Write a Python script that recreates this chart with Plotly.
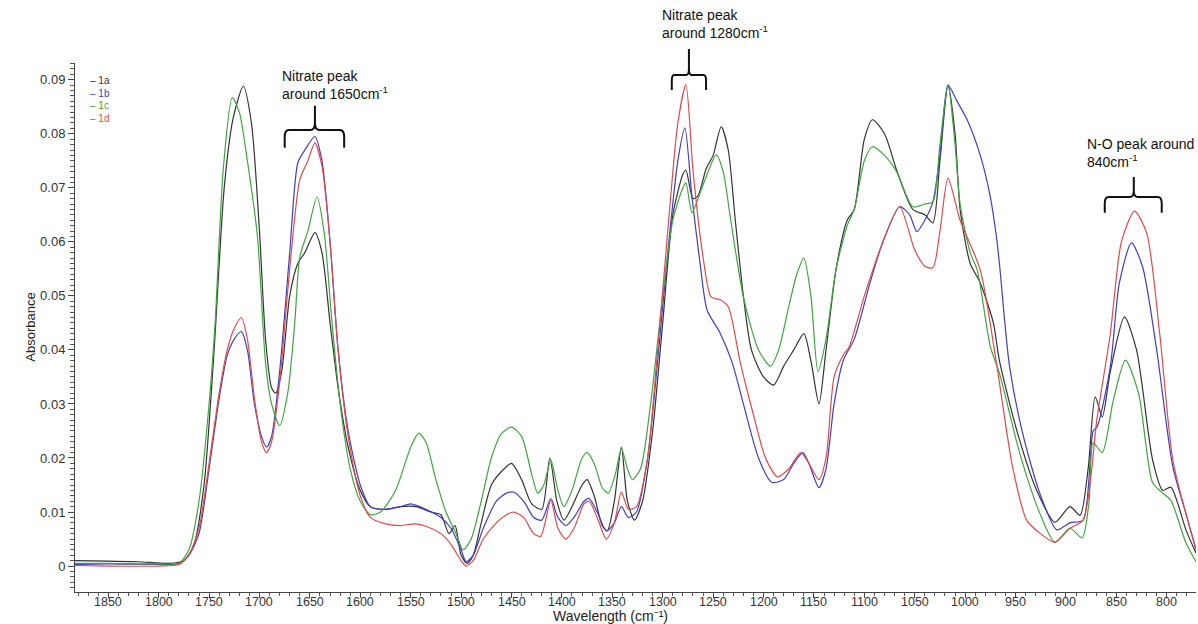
import plotly.graph_objects as go

# ---------------- data (wavenumber cm^-1, absorbance) ----------------
w_1a = [1883, 1850, 1820, 1790, 1775, 1765, 1755, 1745, 1735, 1726, 1716, 1708, 1700, 1694, 1688, 1684,
        1678, 1670, 1662, 1655, 1645, 1638, 1630, 1622, 1612, 1600, 1590, 1575, 1560, 1545, 1530, 1520,
        1512, 1506, 1500, 1494, 1488, 1480, 1470, 1460, 1450, 1440, 1430, 1420, 1412, 1405, 1398, 1390,
        1380, 1375, 1368, 1360, 1355, 1348, 1341, 1335, 1328, 1320, 1310, 1300, 1290, 1280, 1277, 1270,
        1265, 1257, 1250, 1242, 1235, 1228, 1220, 1212, 1200, 1190, 1180, 1170, 1160, 1153, 1145, 1138,
        1128, 1117, 1110, 1100, 1092, 1080, 1068, 1052, 1040, 1032, 1025, 1017, 1010, 1005, 995, 985,
        972, 966, 948, 929, 911, 896, 886, 878, 871, 864, 856, 842, 830, 814, 804, 796, 781, 771]
a_1a = [0.0010, 0.0009, 0.0008, 0.0005, 0.0010, 0.004, 0.015, 0.040, 0.070, 0.083, 0.0888, 0.082, 0.062,
        0.042, 0.033, 0.032, 0.036, 0.050, 0.056, 0.058, 0.0617, 0.058, 0.045, 0.033, 0.022, 0.014, 0.011,
        0.0105, 0.011, 0.011, 0.010, 0.0095, 0.006, 0.0075, 0.002, 0.0005, 0.002, 0.008, 0.015, 0.0175,
        0.019, 0.016, 0.0115, 0.0105, 0.020, 0.012, 0.0085, 0.011, 0.015, 0.016, 0.013, 0.0075, 0.0065,
        0.012, 0.022, 0.012, 0.0085, 0.012, 0.025, 0.045, 0.065, 0.0725, 0.0733, 0.068, 0.0685, 0.0735,
        0.076, 0.0813, 0.077, 0.064, 0.050, 0.040, 0.035, 0.0335, 0.037, 0.040, 0.043, 0.038, 0.030,
        0.040, 0.055, 0.064, 0.066, 0.079, 0.0826, 0.080, 0.0733, 0.066, 0.065, 0.0635, 0.075, 0.089,
        0.080, 0.066, 0.056, 0.0524, 0.045, 0.038, 0.0246, 0.014, 0.0081, 0.011, 0.0094, 0.018, 0.0313,
        0.0276, 0.036, 0.0461, 0.040, 0.0196, 0.014, 0.0146, 0.0067, 0.0024]

w_1b = [1883, 1850, 1800, 1780, 1770, 1760, 1750, 1740, 1732, 1725, 1718, 1712, 1705, 1698, 1693, 1688,
        1680, 1670, 1662, 1655, 1645, 1638, 1630, 1622, 1612, 1600, 1590, 1575, 1560, 1550, 1535, 1520,
        1510, 1500, 1495, 1488, 1478, 1465, 1455, 1448, 1438, 1428, 1420, 1411, 1404, 1396, 1388, 1378,
        1373, 1365, 1356, 1348, 1341, 1334, 1326, 1315, 1305, 1295, 1285, 1278, 1271, 1263, 1256, 1243,
        1231, 1220, 1205, 1192, 1180, 1170, 1161, 1155, 1145, 1138, 1130, 1121, 1110, 1095, 1082, 1065,
        1055, 1048, 1040, 1032, 1025, 1017, 1008, 998, 985, 975, 969, 966, 956, 943, 926, 909, 896, 883,
        873, 869, 856, 847, 835, 824, 810, 794, 780, 770]
a_1b = [0.0003, 0.0004, 0.0003, 0.0004, 0.002, 0.006, 0.018, 0.031, 0.039, 0.042, 0.0434, 0.040, 0.030,
        0.024, 0.022, 0.024, 0.036, 0.058, 0.0746, 0.077, 0.0795, 0.075, 0.060, 0.040, 0.025, 0.015, 0.011,
        0.0105, 0.011, 0.0115, 0.0105, 0.009, 0.007, 0.003, 0.0008, 0.002, 0.007, 0.012, 0.0135, 0.0137,
        0.012, 0.009, 0.0085, 0.0125, 0.009, 0.0075, 0.009, 0.012, 0.0125, 0.010, 0.0065, 0.008, 0.011,
        0.009, 0.010, 0.020, 0.038, 0.058, 0.075, 0.0811, 0.0683, 0.0561, 0.0474, 0.0431, 0.0376, 0.030,
        0.020, 0.0155, 0.016, 0.019, 0.021, 0.019, 0.0145, 0.018, 0.030, 0.038, 0.042, 0.052, 0.0598,
        0.0665, 0.065, 0.0619, 0.064, 0.0674, 0.076, 0.089, 0.086, 0.0826, 0.076, 0.0683, 0.061, 0.056,
        0.037, 0.0246, 0.0135, 0.0067, 0.008, 0.0085, 0.025, 0.0258, 0.0369, 0.0524, 0.0598, 0.0554,
        0.040, 0.0184, 0.0091, 0.0024]

w_1c = [1883, 1850, 1800, 1780, 1770, 1760, 1750, 1744, 1736, 1727, 1720, 1712, 1702, 1694, 1688, 1680,
        1672, 1665, 1660, 1652, 1643, 1636, 1628, 1620, 1610, 1600, 1590, 1580, 1565, 1550, 1542, 1535,
        1525, 1515, 1505, 1498, 1490, 1480, 1470, 1460, 1450, 1440, 1430, 1424, 1418, 1411, 1404, 1398,
        1390, 1380, 1375, 1368, 1360, 1354, 1347, 1341, 1335, 1330, 1322, 1312, 1300, 1290, 1280, 1277,
        1271, 1265, 1258, 1247, 1240, 1233, 1220, 1205, 1193, 1185, 1175, 1167, 1160, 1153, 1146, 1138,
        1128, 1117, 1110, 1100, 1092, 1080, 1068, 1052, 1040, 1032, 1025, 1017, 1010, 1005, 995, 988,
        975, 966, 946, 926, 911, 896, 884, 877, 873, 864, 853, 841, 828, 814, 804, 796, 781, 771]
a_1c = [0.0005, 0.0005, 0.0004, 0.0005, 0.003, 0.012, 0.030, 0.045, 0.0733, 0.0867, 0.084, 0.075, 0.061,
        0.0376, 0.030, 0.026, 0.032, 0.045, 0.0572, 0.062, 0.0683, 0.062, 0.045, 0.030, 0.018, 0.012,
        0.0095, 0.010, 0.014, 0.022, 0.0246, 0.023, 0.016, 0.010, 0.006, 0.003, 0.005, 0.012, 0.020,
        0.0245, 0.0257, 0.024, 0.017, 0.0135, 0.015, 0.0196, 0.014, 0.011, 0.014, 0.020, 0.021, 0.019,
        0.0145, 0.0135, 0.017, 0.0218, 0.018, 0.016, 0.018, 0.030, 0.050, 0.064, 0.070, 0.0709, 0.0654,
        0.068, 0.0715, 0.0761, 0.073, 0.0646, 0.0498, 0.040, 0.037, 0.040, 0.048, 0.054, 0.057, 0.050,
        0.036, 0.042, 0.055, 0.063, 0.066, 0.075, 0.0776, 0.076, 0.073, 0.0665, 0.067, 0.0674, 0.078,
        0.089, 0.078, 0.067, 0.058, 0.0548, 0.0406, 0.0357, 0.021, 0.0098, 0.0044, 0.007, 0.0052, 0.012,
        0.0228, 0.021, 0.0307, 0.0381, 0.032, 0.0154, 0.0135, 0.0122, 0.0043, 0.0008]

w_1d = [1883, 1850, 1800, 1780, 1770, 1760, 1750, 1740, 1732, 1725, 1718, 1712, 1705, 1698, 1693, 1688,
        1680, 1670, 1660, 1652, 1645, 1638, 1630, 1622, 1612, 1600, 1590, 1575, 1560, 1545, 1530, 1520,
        1510, 1500, 1495, 1488, 1478, 1465, 1455, 1448, 1438, 1428, 1421, 1411, 1404, 1396, 1388, 1378,
        1373, 1365, 1356, 1348, 1341, 1334, 1326, 1315, 1305, 1295, 1285, 1277, 1270, 1260, 1252, 1243,
        1235, 1223, 1210, 1198, 1186, 1175, 1163, 1155, 1145, 1138, 1130, 1121, 1115, 1100, 1082, 1065,
        1050, 1040, 1032, 1025, 1017, 1005, 985, 969, 953, 939, 926, 911, 896, 883, 869, 856, 845, 832,
        820, 807, 794, 780, 770]
a_1d = [0.0001, 0.0, 0.0, 0.0003, 0.002, 0.007, 0.019, 0.032, 0.040, 0.044, 0.046, 0.042, 0.031, 0.023,
        0.021, 0.023, 0.034, 0.055, 0.0715, 0.075, 0.0783, 0.074, 0.060, 0.040, 0.024, 0.013, 0.009,
        0.0078, 0.0075, 0.0078, 0.007, 0.006, 0.004, 0.001, 0.0, 0.001, 0.005, 0.008, 0.0095, 0.010,
        0.009, 0.006, 0.0055, 0.0122, 0.007, 0.005, 0.007, 0.0115, 0.012, 0.009, 0.005, 0.008, 0.0137,
        0.0105, 0.011, 0.020, 0.040, 0.062, 0.082, 0.0891, 0.0733, 0.0572, 0.0498, 0.0493, 0.048, 0.0376,
        0.028, 0.020, 0.0165, 0.018, 0.021, 0.019, 0.016, 0.020, 0.035, 0.039, 0.0406, 0.050, 0.0598,
        0.0665, 0.0585, 0.0555, 0.0552, 0.062, 0.0718, 0.064, 0.0548, 0.0376, 0.0184, 0.0085, 0.0061,
        0.0044, 0.007, 0.0085, 0.0276, 0.043, 0.060, 0.0657, 0.0617, 0.043, 0.0196, 0.009, 0.0024]

series_names = ["1a", "1b", "1c", "1d"]
series_colors = ["#333333", "#3f3fc4", "#3fa53f", "#e04a4a"]
x_tick_values = [1850, 1800, 1750, 1700, 1650, 1600, 1550, 1500, 1450, 1400, 1350, 1300, 1250, 1200,
                 1150, 1100, 1050, 1000, 950, 900, 850, 800]

X_RANGE = [1883, 771]
Y_RANGE = [-0.0048, 0.0931]

FONT = "Liberation Sans, Arial, sans-serif"


def px_x(w):
    return (X_RANGE[0] - w) / (X_RANGE[0] - X_RANGE[1])


def px_y(a):
    return (a - Y_RANGE[0]) / (Y_RANGE[1] - Y_RANGE[0])


fig = go.Figure()
for name, xs, ys, col in zip(series_names, [w_1a, w_1b, w_1c, w_1d], [a_1a, a_1b, a_1c, a_1d], series_colors):
    fig.add_trace(go.Scatter(x=xs, y=ys, mode="lines", name=name,
                             line=dict(color=col, width=1.2, shape="spline", smoothing=0.7),
                             showlegend=False))

# legend as coloured text
for i, (name, col) in enumerate(zip(series_names, series_colors)):
    fig.add_annotation(x=0.012, y=0.967 - i * 0.024, xref="paper", yref="paper",
                       text="– " + name, showarrow=False, xanchor="left", yanchor="middle",
                       font=dict(family=FONT, size=10, color=col))

# x tick labels (placed close under the axis as in the original)
for v in x_tick_values:
    fig.add_annotation(x=v, y=-0.0185, xref="x", yref="paper", text=str(v), showarrow=False,
                       xanchor="center", yanchor="middle",
                       font=dict(family=FONT, size=12.5, color="#333333"))

# peak labels
labels = [
    (1679.5, 0.0925, "Nitrate peak<br>around 1650cm<sup>-1</sup>"),
    (1302.7, 0.1038, "Nitrate peak<br>around 1280cm<sup>-1</sup>"),
    (881.3, 0.0800, "N-O peak around<br>840cm<sup>-1</sup>"),
]
for lx, ly, txt in labels:
    fig.add_annotation(x=px_x(lx), y=px_y(ly), xref="paper", yref="paper", text=txt, showarrow=False,
                       xanchor="left", yanchor="top", align="left",
                       font=dict(family=FONT, size=14, color="#111111"))

# curly brackets (left, centre, right wavenumber; bottom, bar, top absorbance)
brackets = [
    (1675, 1645, 1616, 0.0774, 0.0807, 0.0852),
    (1291, 1274, 1257, 0.0881, 0.0909, 0.0957),
    (861.5, 832.7, 805, 0.0654, 0.0683, 0.0720),
]
for xl, xc, xr, yb, ym, yt in brackets:
    XL, XC, XR = px_x(xl), px_x(xc), px_x(xr)
    YB, YM, YT = px_y(yb), px_y(ym), px_y(yt)
    dx = (XR - XL) * 0.07
    dy = (YM - YB) * 0.4
    path = (f"M {XL},{YB} L {XL},{YM - dy} Q {XL},{YM} {XL + dx},{YM} "
            f"L {XC - dx},{YM} Q {XC},{YM} {XC},{YM + dy} L {XC},{YT} "
            f"M {XC},{YM + dy} Q {XC},{YM} {XC + dx},{YM} L {XR - dx},{YM} "
            f"Q {XR},{YM} {XR},{YM - dy} L {XR},{YB}")
    fig.add_shape(type="path", path=path, xref="paper", yref="paper",
                  line=dict(color="#111111", width=2))

# axis titles
fig.add_annotation(x=0.478, y=-0.0455, xref="paper", yref="paper", text="Wavelength (cm⁻¹)",
                   showarrow=False, xanchor="center", yanchor="middle",
                   font=dict(family=FONT, size=14, color="#222222"))
fig.add_annotation(x=-0.04, y=0.5, xref="paper", yref="paper", text="Absorbance", textangle=-90,
                   showarrow=False, xanchor="center", yanchor="middle",
                   font=dict(family=FONT, size=13, color="#222222"))

fig.update_layout(
    width=1198, height=624,
    margin=dict(l=75, r=2, t=63, b=32),
    paper_bgcolor="white", plot_bgcolor="white",
    font=dict(family=FONT, size=12, color="#333333"),
    xaxis=dict(range=X_RANGE, showgrid=False, zeroline=False, showline=True,
               linecolor="#444444", linewidth=1, ticks="outside", ticklen=5, tickcolor="#444444",
               tickmode="linear", tick0=800, dtick=50, showticklabels=False,
               minor=dict(dtick=10, tick0=800, ticks="outside", ticklen=3, tickwidth=1,
                          tickcolor="#555555", showgrid=False)),
    yaxis=dict(range=Y_RANGE, showgrid=False, zeroline=False, showline=True,
               linecolor="#444444", linewidth=1, ticks="outside", ticklen=6, tickcolor="#444444",
               tickmode="linear", tick0=0, dtick=0.01, tickfont=dict(size=13, color="#333333"),
               minor=dict(dtick=0.001, tick0=0, ticks="outside", ticklen=4, tickwidth=1,
                          tickcolor="#555555", showgrid=False)),
)

fig.write_html("out.html")
